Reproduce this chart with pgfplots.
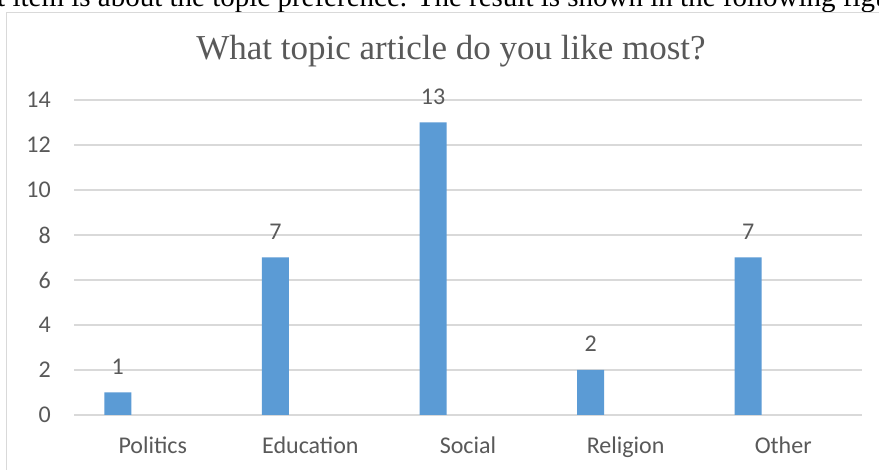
\documentclass[border=0pt]{standalone}
\usepackage{fontspec}
\setmainfont{Liberation Serif}
\newfontfamily\calfont{Carlito}
\usepackage{pgfplots}
\pgfplotsset{compat=1.18}
\definecolor{barblue}{HTML}{5B9BD5}
\definecolor{gridgray}{HTML}{D9D9D9}
\definecolor{txt}{HTML}{595959}
\begin{document}
\begin{tikzpicture}[x=1pt,y=1pt]
\useasboundingbox (0,0) rectangle (879,470);
\clip (0,0) rectangle (879,470);
\fill[white] (0,0) rectangle (879,470);
\node[anchor=base west, inner sep=0, font=\fontsize{29}{33}\selectfont] at (-3,463.5) {t item is about the topic preference. The result is shown in the following figure.};
\draw[gridgray, line width=1.5pt] (6.5,-20) -- (6.5,457.5) -- (900,457.5);
\node[anchor=base, inner sep=0, text=txt, font=\fontsize{35}{40}\selectfont] at (451,410) {What topic article do you like most?};
\begin{axis}[
  at={(74pt,55pt)}, anchor=south west,
  scale only axis, width=788pt, height=315pt,
  xmin=-0.5, xmax=4.5, ymin=0, ymax=14,
  ytick={0,2,...,14},
  xtick={0,...,4},
  xticklabels={Politics,Education,Social,Religion,Other},
  axis line style={draw=none},
  major tick length=0pt,
  ymajorgrids, grid style={gridgray, line width=1.3pt},
  /pgf/number format/assume math mode=true,
  tick label style={font=\calfont\fontsize{24}{28}\selectfont, text=txt, inner sep=0pt},
  yticklabel style={anchor=east, xshift=-23pt},
  xticklabel style={anchor=base, yshift=-39pt},
  ybar, bar width=27pt, bar shift=-35pt,
  nodes near coords,
  every node near coord/.append style={font=\calfont\fontsize{24}{28}\selectfont, text=txt, anchor=base, yshift=18pt, inner sep=0pt},
  clip=false,
]
\addplot[fill=barblue, draw=none] coordinates {(0,1) (1,7) (2,13) (3,2) (4,7)};
\end{axis}
\end{tikzpicture}
\end{document}
